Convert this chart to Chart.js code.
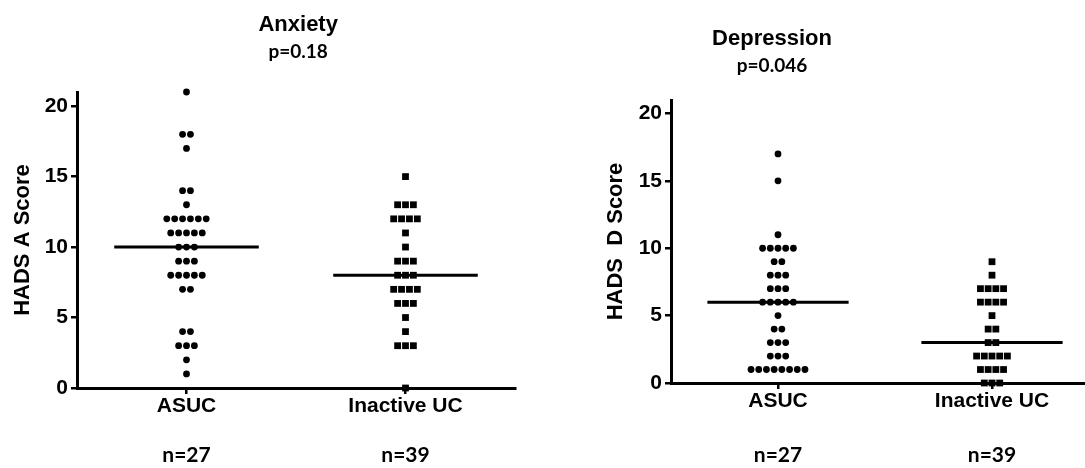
<!DOCTYPE html>
<html>
<head>
<meta charset="utf-8">
<title>HADS scores</title>
<script src="https://cdn.jsdelivr.net/npm/chart.js@4.4.1/dist/chart.umd.min.js"></script>
<style>
  html, body { margin: 0; padding: 0; background: #fff; overflow: hidden; }
  body { width: 1085px; height: 468px; position: relative; }
  .panel { position: absolute; top: 0; height: 468px; }
  #left { left: 0; width: 540px; }
  #right { left: 545px; width: 560px; }
</style>
</head>
<body>
<div class="panel" id="left"><canvas id="anxiety-chart"></canvas></div>
<div class="panel" id="right"><canvas id="depression-chart"></canvas></div>
<script>
const groups = ["ASUC", "Inactive UC"];
const groupCounts = [27, 39];
const groupPos = [1, 3];
const yTicks = [0, 5, 10, 15, 20];

// HADS anxiety scores
const anxietyAsuc = [21, 18, 18, 17, 14, 14, 13, 12, 12, 12, 12, 12, 12,
  11, 11, 11, 11, 11, 10, 10, 10, 9, 9, 9, 8, 8, 8, 8, 8, 7, 7,
  4, 4, 3, 3, 3, 2, 1];
const anxietyInactive = [15, 13, 13, 13, 12, 12, 12, 12, 11, 10, 9, 9, 9,
  8, 8, 8, 7, 7, 7, 7, 6, 6, 6, 5, 4, 3, 3, 3, 0];

// HADS depression scores
const depressionAsuc = [17, 15, 11, 10, 10, 10, 10, 10, 9, 9, 8, 8, 8,
  7, 7, 7, 6, 6, 6, 6, 6, 5, 4, 4, 3, 3, 3, 2, 2, 2,
  1, 1, 1, 1, 1, 1, 1, 1];
const depressionInactive = [9, 8, 7, 7, 7, 7, 6, 6, 6, 6, 5, 4, 4, 3, 3,
  2, 2, 2, 2, 2, 1, 1, 1, 1, 0, 0, 0];

const DOT_STEP = 0.072;   // horizontal spacing of tied points, in x units
const HALF_LINE = 0.66;   // half length of the median bar

function median(values) {
  const s = values.slice().sort((a, b) => a - b);
  const m = Math.floor(s.length / 2);
  return s.length % 2 ? s[m] : (s[m - 1] + s[m]) / 2;
}

// spread tied values side by side around the group position
function swarm(values, center) {
  const counts = {};
  values.forEach((v) => { counts[v] = (counts[v] || 0) + 1; });
  const seen = {};
  return values.map((v) => {
    const k = seen[v] || 0;
    seen[v] = k + 1;
    return { x: center + (k - (counts[v] - 1) / 2) * DOT_STEP, y: v };
  });
}

function medianBar(values, center) {
  const m = median(values);
  return [{ x: center - HALF_LINE, y: m }, { x: center + HALF_LINE, y: m }];
}

// panel heading + p value, and the n= counts under the category labels
const panelText = {
  id: "panelText",
  afterDraw(chart, args, opts) {
    const ctx = chart.ctx;
    const area = chart.chartArea;
    const xs = chart.scales.x;
    const cx = area.left + opts.titleAt * (area.right - area.left);
    ctx.save();
    ctx.fillStyle = "#000";
    ctx.textAlign = "center";
    ctx.textBaseline = "middle";
    ctx.font = "bold 22px 'Liberation Sans', Arial";
    ctx.fillText(opts.title, cx, opts.titleY);
    ctx.font = "bold 19px Lato";
    ctx.fillText(opts.pValue, cx, opts.titleY + 27);
    ctx.font = "bold 21px Lato";
    groupPos.forEach((p, i) => {
      ctx.fillText("n=" + groupCounts[i], xs.getPixelForValue(p), area.bottom + opts.countOffset);
    });
    ctx.restore();
  },
};

function makeChart(id, cfg) {
  const axisFont = { family: "'Liberation Sans', Arial", size: 21, weight: "bold" };
  new Chart(document.getElementById(id).getContext("2d"), {
    type: "scatter",
    data: {
      datasets: [
        {
          data: swarm(cfg.first, groupPos[0]),
          pointStyle: "circle",
          pointRadius: 3.4,
          pointHoverRadius: 3.4,
          backgroundColor: "#000",
          borderWidth: 0,
          clip: false,
        },
        {
          data: swarm(cfg.second, groupPos[1]),
          pointStyle: "rect",
          pointRadius: 4.8,
          pointHoverRadius: 4.8,
          backgroundColor: "#000",
          borderWidth: 0,
          clip: false,
        },
        {
          type: "line",
          data: medianBar(cfg.first, groupPos[0]),
          borderColor: "#000",
          borderWidth: 3,
          pointRadius: 0,
        },
        {
          type: "line",
          data: medianBar(cfg.second, groupPos[1]),
          borderColor: "#000",
          borderWidth: 3,
          pointRadius: 0,
        },
      ],
    },
    options: {
      responsive: true,
      maintainAspectRatio: false,
      animation: false,
      events: [],
      layout: { padding: cfg.padding },
      plugins: {
        legend: { display: false },
        tooltip: { enabled: false },
        panelText: {
          title: cfg.title,
          pValue: cfg.pValue,
          titleAt: cfg.titleAt,
          titleY: cfg.titleY,
          countOffset: cfg.countOffset,
        },
      },
      scales: {
        x: {
          type: "linear",
          min: 0,
          max: 4,
          afterBuildTicks: (scale) => {
            scale.ticks = groupPos.map((v) => ({ value: v }));
          },
          afterFit: (scale) => {
            scale.height = cfg.xHeight;
          },
          ticks: {
            color: "#000",
            font: axisFont,
            padding: 0,
            callback: (v) => groups[groupPos.indexOf(v)],
          },
          grid: {
            drawOnChartArea: false,
            tickLength: 6,
            lineWidth: 2.5,
            color: "#000",
          },
          border: { color: "#000", width: 3 },
        },
        y: {
          min: 0,
          max: 21,
          afterBuildTicks: (scale) => {
            scale.ticks = yTicks.map((v) => ({ value: v }));
          },
          afterFit: (scale) => {
            scale.width = cfg.yWidth;
          },
          ticks: { color: "#000", font: axisFont, padding: 3 },
          grid: {
            drawOnChartArea: false,
            tickLength: 6,
            lineWidth: 2.5,
            color: "#000",
          },
          border: { color: "#000", width: 3 },
          title: {
            display: true,
            text: cfg.yTitle,
            color: "#000",
            font: { family: "'Liberation Sans', Arial", size: 22, weight: "bold" },
            padding: { top: 10, bottom: 0 },
          },
        },
      },
    },
    plugins: [panelText],
  });
}

makeChart("anxiety-chart", {
  first: anxietyAsuc,
  second: anxietyInactive,
  title: "Anxiety",
  pValue: "p=0.18",
  yTitle: "HADS A Score",
  padding: { left: 0, right: 25, top: 92, bottom: 0 },
  titleAt: 0.505,
  titleY: 25,
  yWidth: 77,
  xHeight: 80,
  countOffset: 67,
});

makeChart("depression-chart", {
  first: depressionAsuc,
  second: depressionInactive,
  title: "Depression",
  pValue: "p=0.046",
  yTitle: "HADS  D Score",
  padding: { left: 48, right: 6, top: 100, bottom: 0 },
  titleAt: 0.236,
  titleY: 39,
  yWidth: 78,
  xHeight: 85,
  countOffset: 72,
});
</script>
</body>
</html>
